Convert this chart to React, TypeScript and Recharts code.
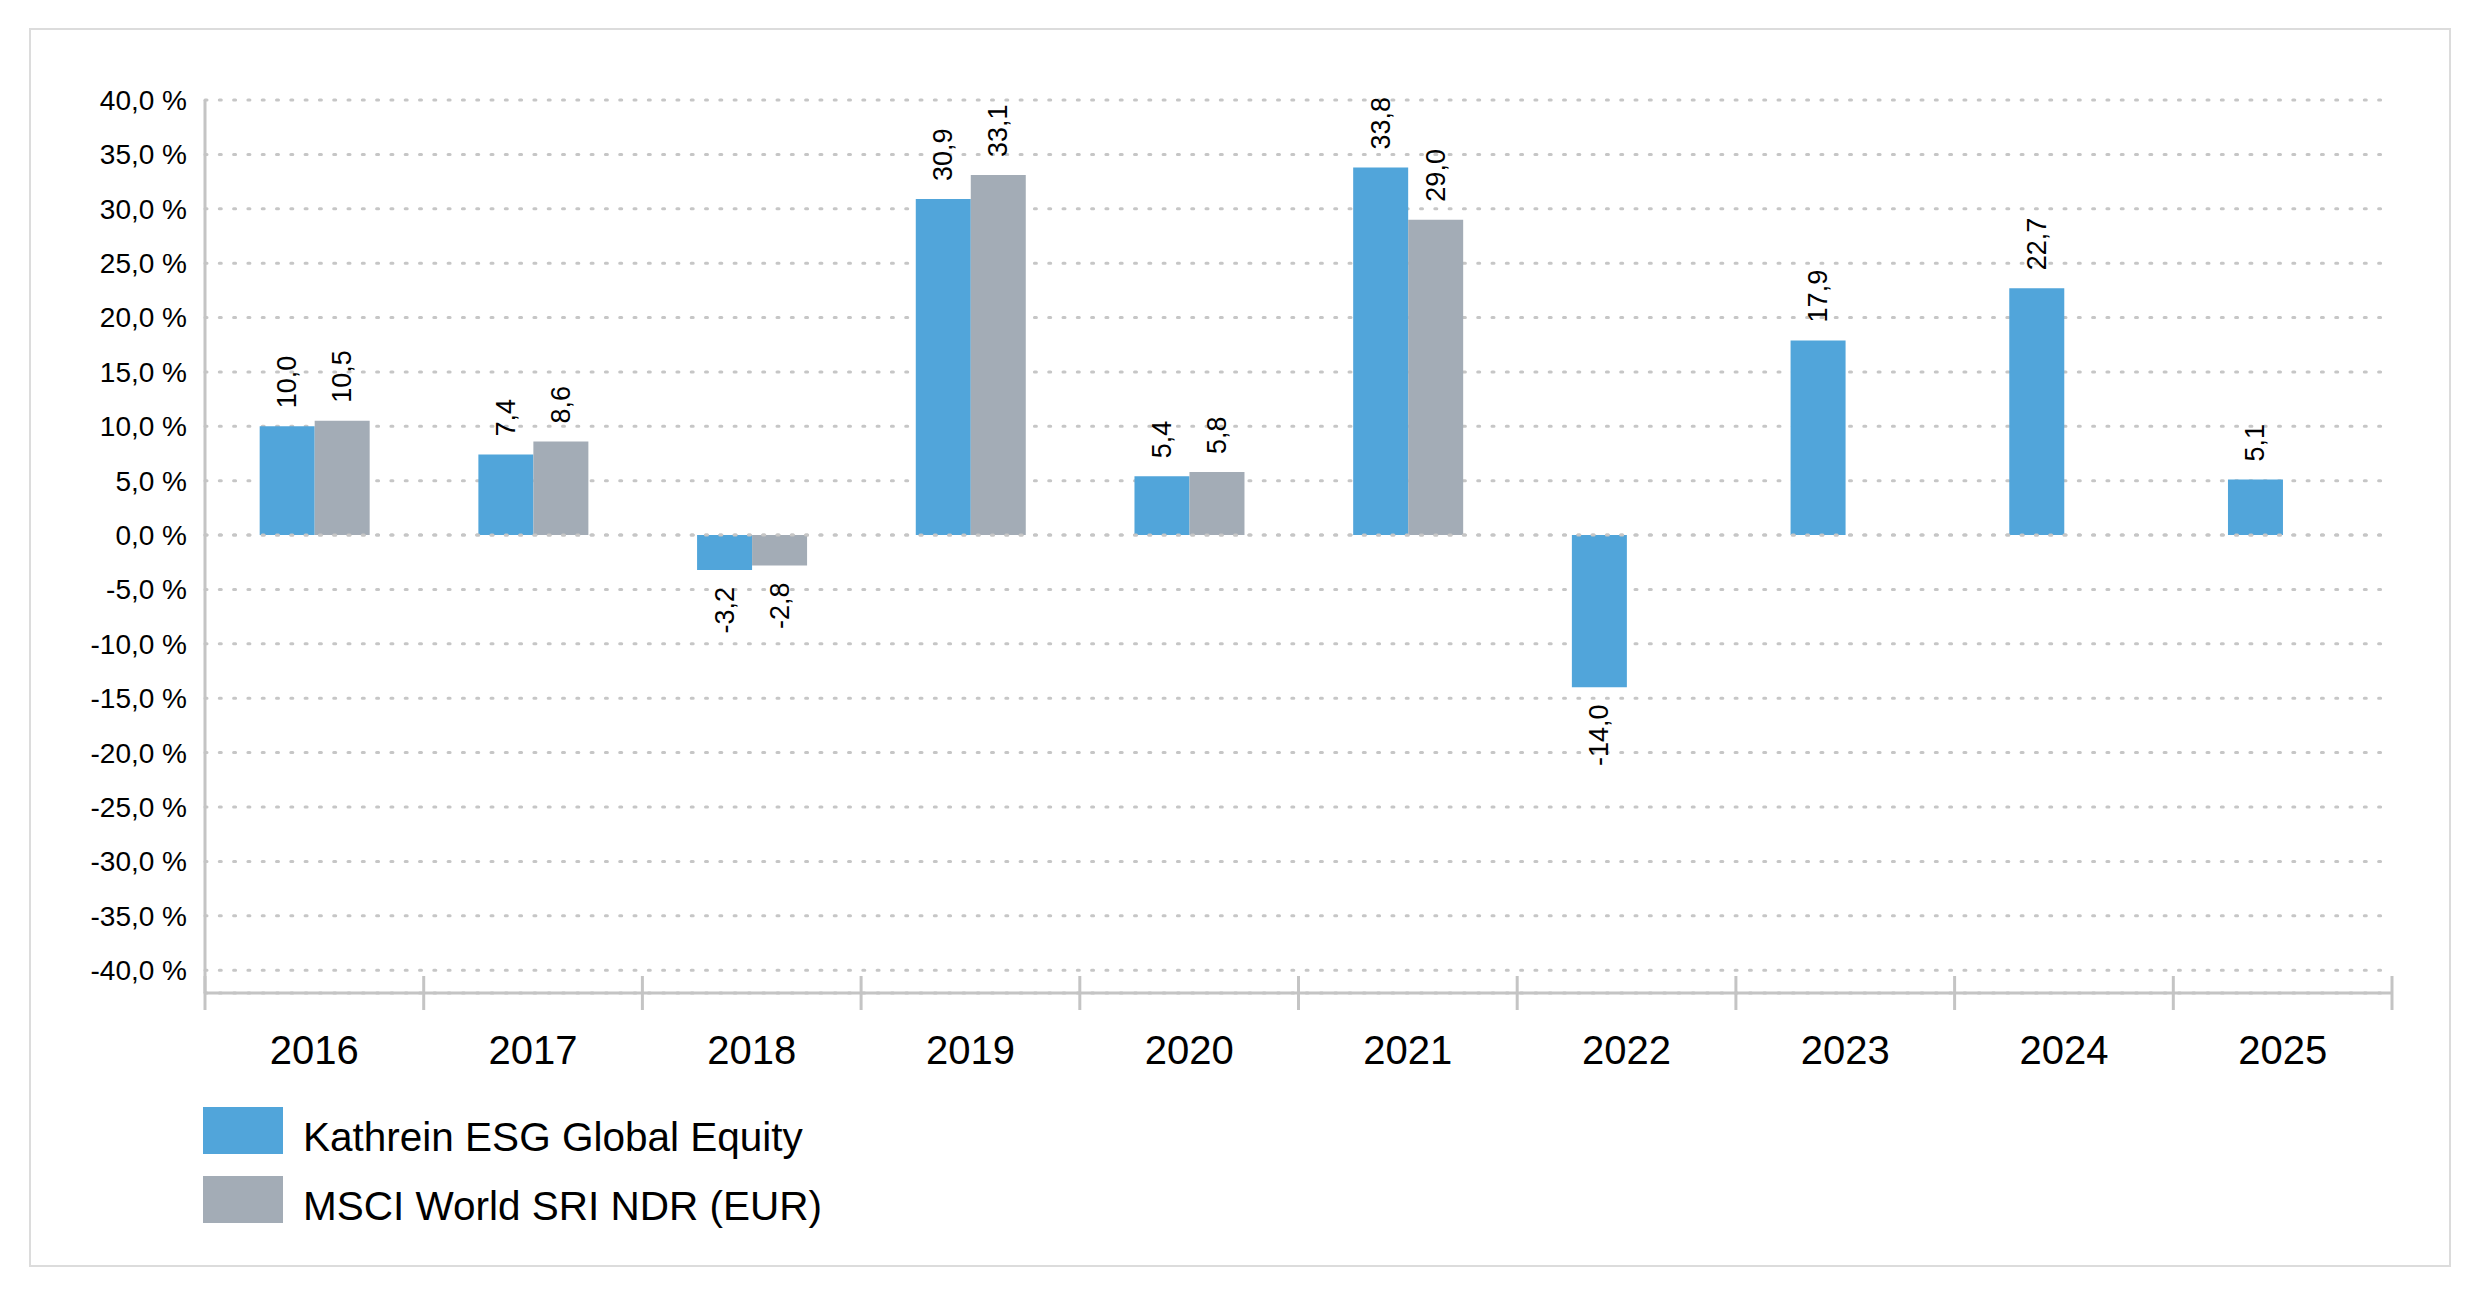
import React from 'react'
import {
  BarChart,
  Bar,
  XAxis,
  YAxis,
  CartesianGrid,
  ReferenceLine,
  LabelList,
  Legend
} from 'recharts'

const years = ['2016', '2017', '2018', '2019', '2020', '2021', '2022', '2023', '2024', '2025']
const fundValues = [10.0, 7.4, -3.2, 30.9, 5.4, 33.8, -14.0, 17.9, 22.7, 5.1]
const indexValues = [10.5, 8.6, -2.8, 33.1, 5.8, 29.0, null, null, null, null]
const yTicks = [-40, -35, -30, -25, -20, -15, -10, -5, 0, 5, 10, 15, 20, 25, 30, 35, 40]

const FUND_NAME = 'Kathrein ESG Global Equity'
const INDEX_NAME = 'MSCI World SRI NDR (EUR)'
const BLUE = '#51a5da'
const GREY = '#a3acb6'
const AXIS = '#c4c4c4'
const GRID = '#c6c6c6'

const W = 2480
const H = 1299
// legend block (2 rows of 47 + 22) is added to the bottom offset by recharts
const LEGEND_H = 138
const MARGIN = { top: 100, right: 88, bottom: 226 - LEGEND_H, left: 0 }
const Y_AXIS_W = 205
const BAND = (W - MARGIN.left - MARGIN.right - Y_AXIS_W) / years.length

const data = years.map((year, i) => ({
  year,
  fund: fundValues[i],
  index: indexValues[i]
}))

const fmt = (v: number) => v.toFixed(1).replace('.', ',')

const XTick = (props: any) => {
  const { x, y, payload, index } = props
  const half = BAND / 2
  const last = index === years.length - 1
  return (
    <g>
      <line x1={x - half} x2={x - half} y1={y - 17} y2={y + 17} stroke={AXIS} strokeWidth={3} />
      {last && <line x1={x + half} x2={x + half} y1={y - 17} y2={y + 17} stroke={AXIS} strokeWidth={3} />}
      <text x={x} y={y + 71} textAnchor="middle" fontSize={40} fill="#000">
        {payload.value}
      </text>
    </g>
  )
}

const renderLabel = (props: any) => {
  const { value } = props
  if (value === null || value === undefined) return null
  const x = Number(props.x)
  const y = Number(props.y)
  const width = Number(props.width)
  const height = Number(props.height)
  const cx = x + width / 2
  const top = Math.min(y, y + height)
  const bottom = Math.max(y, y + height)
  const neg = value < 0
  const ly = neg ? bottom + 17 : top - 18
  return (
    <text
      x={cx}
      y={ly}
      transform={`rotate(-90, ${cx}, ${ly})`}
      textAnchor={neg ? 'end' : 'start'}
      dominantBaseline="central"
      fontSize={27}
      fill="#000"
    >
      {fmt(value)}
    </text>
  )
}

const renderLegend = (props: any) => {
  const items = props.payload || []
  return (
    <div>
      {items.map((item: any) => (
        <div key={item.value} style={{ display: 'flex', height: 47, marginBottom: 22 }}>
          <div style={{ width: 80, height: 47, background: item.color }} />
          <div
            style={{
              marginLeft: 20,
              fontSize: 40.5,
              lineHeight: '47px',
              position: 'relative',
              top: 7,
              color: '#000',
              whiteSpace: 'nowrap'
            }}
          >
            {item.value}
          </div>
        </div>
      ))}
    </div>
  )
}

const App: React.FC = () => {
  return (
    <div
      style={{
        position: 'absolute',
        left: 0,
        top: 0,
        width: W,
        height: H,
        background: '#fff',
        fontFamily: "'Liberation Sans', Arial, sans-serif"
      }}
    >
      <div
        style={{
          position: 'absolute',
          left: 29,
          top: 28,
          width: 2422,
          height: 1239,
          border: '2px solid #dcdcdc',
          boxSizing: 'border-box'
        }}
      />
      <div style={{ position: 'absolute', left: 0, top: 0 }}>
        <BarChart
          width={W}
          height={H}
          data={data}
          margin={MARGIN}
          barCategoryGap="25%"
          barGap={0}
        >
          <CartesianGrid
            vertical={false}
            stroke={GRID}
            strokeWidth={3}
            strokeDasharray="2 12.3"
            strokeLinecap="round"
          />
          <XAxis
            dataKey="year"
            interval={0}
            axisLine={{ stroke: AXIS, strokeWidth: 3 }}
            tickLine={false}
            tickSize={0}
            tickMargin={0}
            height={80}
            tick={<XTick />}
          />
          <YAxis
            type="number"
            domain={[-42.1, 40]}
            ticks={yTicks}
            width={Y_AXIS_W}
            axisLine={{ stroke: AXIS, strokeWidth: 3 }}
            tickLine={false}
            tickSize={0}
            tickMargin={18}
            tick={{ fontSize: 28, fill: '#000' }}
            tickFormatter={(v: number) => `${fmt(v)} %`}
            allowDataOverflow
          />
          <Bar dataKey="fund" name={FUND_NAME} fill={BLUE} isAnimationActive={false}>
            <LabelList dataKey="fund" content={renderLabel} />
          </Bar>
          <Bar dataKey="index" name={INDEX_NAME} fill={GREY} isAnimationActive={false}>
            <LabelList dataKey="index" content={renderLabel} />
          </Bar>
          <ReferenceLine
            y={0}
            stroke={GRID}
            strokeWidth={3}
            strokeDasharray="2 12.3"
            strokeLinecap="round"
          />
          <Legend
            layout="vertical"
            align="center"
            verticalAlign="bottom"
            content={renderLegend}
            wrapperStyle={{ left: 203, top: 1107, width: 900, bottom: 'auto' }}
          />
        </BarChart>
      </div>
    </div>
  )
}

export default App
